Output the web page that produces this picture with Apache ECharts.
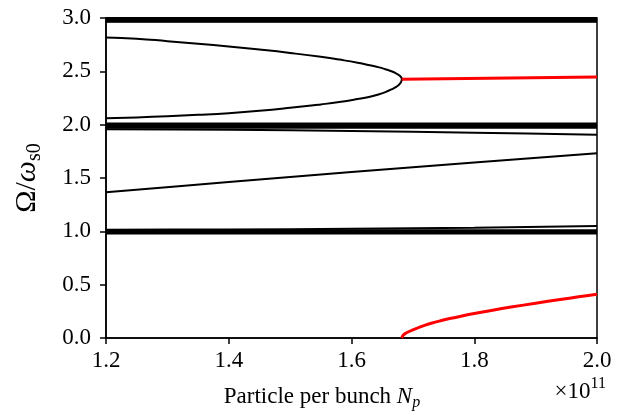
<!DOCTYPE html>
<html><head><meta charset="utf-8">
<script src="https://cdn.jsdelivr.net/npm/echarts@6/dist/echarts.min.js"></script>
<style>html,body{margin:0;padding:0;background:#fff}#c{width:636px;height:418px}</style>
</head><body><div id="c"></div>
<script>
// x ticks (×10^11) and y ticks
const xTicks = [1.2, 1.4, 1.6, 1.8, 2.0];
const yTicks = [0, 0.5, 1.0, 1.5, 2.0, 2.5, 3.0];
// nearly flat modes (drawn across the full range)
const xEnds = [1.2, 2.0];
const flatLevels = [3.0, 2.99, 2.98, 2.97, 2.965, 2.01, 2.0, 1.99, 1.98, 1.97, 1.01, 1.0, 0.99, 0.98];
// slowly varying modes
const xSample = [1.2, 1.4, 1.6, 1.8, 2.0];
const dipNear2 = [1.958, 1.953, 1.94, 1.925, 1.905];
const midLine = [1.366, 1.462, 1.556, 1.645, 1.731];
const riseNear1 = [1.015, 1.018, 1.024, 1.034, 1.05];
// coalescing pair near 2.4
const xBranch = [1.2, 1.25, 1.3, 1.35, 1.4, 1.45, 1.5, 1.55, 1.58, 1.61, 1.63, 1.645, 1.655, 1.665, 1.672, 1.677, 1.68, 1.682];
const upperBranch = [2.818, 2.806, 2.783, 2.759, 2.733, 2.704, 2.672, 2.636, 2.61, 2.581, 2.557, 2.537, 2.52, 2.501, 2.483, 2.466, 2.451, 2.425];
const lowerBranch = [2.059, 2.068, 2.079, 2.092, 2.108, 2.13, 2.158, 2.19, 2.212, 2.24, 2.262, 2.285, 2.305, 2.33, 2.352, 2.373, 2.393, 2.425];
// unstable (red) modes
const xRedTop = [1.682, 2.0];
const redTop = [2.425, 2.447];
const xRedLow = [1.682, 1.684, 1.687, 1.692, 1.70, 1.71, 1.72, 1.73, 1.745, 1.76, 1.78, 1.80, 1.83, 1.86, 1.90, 1.94, 1.97, 2.0];
const redLow = [0, 0.024, 0.04, 0.056, 0.077, 0.1, 0.12, 0.138, 0.161, 0.182, 0.207, 0.23, 0.261, 0.29, 0.326, 0.361, 0.386, 0.41];

const FONT = 'Liberation Serif';
function pairs(xs, ys) { return xs.map((x, i) => [x, ys[i]]); }
function line(data, color, w, smooth) {
  return { type: 'line', data: data, symbol: 'none', showSymbol: false, silent: true,
    smooth: smooth || false, clip: true, lineStyle: { color: color, width: w }, z: 3 };
}
const series = [];
flatLevels.forEach(v => series.push(line(pairs(xEnds, [v, v]), '#000', 2)));
series.push(line(pairs(xSample, dipNear2), '#000', 2, 0.3));
series.push(line(pairs(xSample, midLine), '#000', 2, 0.3));
series.push(line(pairs(xSample, riseNear1), '#000', 2, 0.3));
const loop = pairs(xBranch, upperBranch).concat(pairs(xBranch, lowerBranch).reverse().slice(1));
series.push(line(loop, '#000', 2, 0.5));
series.push(line(pairs(xRedTop, redTop), '#ff0000', 3));
series.push(line(pairs(xRedLow, redLow), '#ff0000', 3, 0.4));

const axisCommon = {
  type: 'value',
  axisLine: { show: true, lineStyle: { color: '#000', width: 1.5 } },
  axisTick: { show: true, length: 6, lineStyle: { color: '#000', width: 1.5 } },
  splitLine: { show: false },
};
const chart = echarts.init(document.getElementById('c'), null, { renderer: 'canvas' });
chart.setOption({
  animation: false,
  backgroundColor: '#fff',
  grid: { left: 106, right: 39, top: 18, bottom: 80, show: true, borderColor: '#000', borderWidth: 1.5, backgroundColor: 'transparent' },
  xAxis: Object.assign({}, axisCommon, {
    min: xTicks[0], max: xTicks[xTicks.length - 1], interval: 0.2,
    axisLabel: { color: '#000', fontFamily: FONT, fontSize: 23, margin: 11, formatter: v => v.toFixed(1) }
  }),
  yAxis: Object.assign({}, axisCommon, {
    min: yTicks[0], max: yTicks[yTicks.length - 1], interval: 0.5,
    axisLabel: { color: '#000', fontFamily: FONT, fontSize: 23, margin: 15, formatter: v => v.toFixed(1) }
  }),
  series: series,
  graphic: [
    { type: 'text', x: 322, y: 397, style: {
      text: 'Particle per bunch {it|N}{sub|p}', align: 'center', verticalAlign: 'middle',
      fontFamily: FONT, fontSize: 23, fill: '#000', lineHeight: 28,
      rich: {
        it: { fontFamily: FONT, fontSize: 23, fontStyle: 'italic', lineHeight: 28 },
        sub: { fontFamily: FONT, fontSize: 16, fontStyle: 'italic', verticalAlign: 'bottom', lineHeight: 16 }
      } } },
    { type: 'text', x: 606, y: 392, style: {
      text: '×10{sup|11}', align: 'right', verticalAlign: 'middle',
      fontFamily: FONT, fontSize: 23, fill: '#000', lineHeight: 32,
      rich: { sup: { fontFamily: FONT, fontSize: 16, verticalAlign: 'top', lineHeight: 16 } } } },
    { type: 'text', x: 27, y: 178, rotation: Math.PI / 2, style: {
      text: 'Ω/{it|ω}{sub|s0}', align: 'center', verticalAlign: 'middle',
      fontFamily: FONT, fontSize: 30, fill: '#000', lineHeight: 36,
      rich: {
        it: { fontFamily: FONT, fontSize: 30, fontStyle: 'italic', lineHeight: 36 },
        sub: { fontFamily: FONT, fontSize: 20, verticalAlign: 'bottom', lineHeight: 20 }
      } } }
  ]
});
</script></body></html>
